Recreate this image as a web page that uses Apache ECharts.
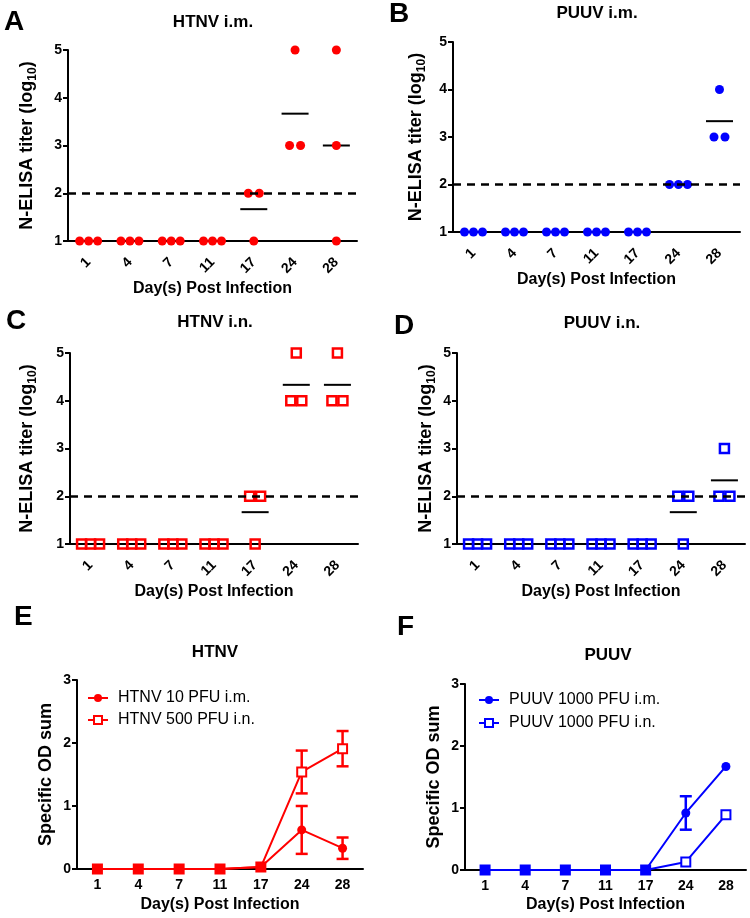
<!DOCTYPE html>
<html>
<head>
<meta charset="utf-8">
<script src="https://cdn.jsdelivr.net/npm/echarts@6/dist/echarts.min.js"></script>
<style>
  html, body { margin: 0; padding: 0; background: #fff; }
  #chart { width: 750px; height: 918px; }
</style>
</head>
<body>
<div id="chart"></div>
<script>
// days post infection (categories)
const days = ['1', '4', '7', '11', '17', '24', '28'];
const threshold = 2;

// N-ELISA titers (log10), three animals per day
const htnvImTiter = [[1, 1, 1], [1, 1, 1], [1, 1, 1], [1, 1, 1], [2, 2, 1], [5, 3, 3], [5, 3, 1]];
const puuvImTiter = [[1, 1, 1], [1, 1, 1], [1, 1, 1], [1, 1, 1], [1, 1, 1], [2, 2, 2], [4, 3, 3]];
const htnvInTiter = [[1, 1, 1], [1, 1, 1], [1, 1, 1], [1, 1, 1], [2, 2, 1], [5, 4, 4], [5, 4, 4]];
const puuvInTiter = [[1, 1, 1], [1, 1, 1], [1, 1, 1], [1, 1, 1], [1, 1, 1], [2, 2, 1], [3, 2, 2]];

// specific OD sum, mean and SEM
const htnvImOD = [0, 0, 0, 0, 0.03, 0.62, 0.33];
const htnvImSEM = [0, 0, 0, 0, 0, 0.38, 0.17];
const htnvInOD = [0, 0, 0, 0, 0.03, 1.54, 1.91];
const htnvInSEM = [0, 0, 0, 0, 0, 0.34, 0.28];
const puuvImOD = [0, 0, 0, 0, 0, 0.92, 1.67];
const puuvImSEM = [0, 0, 0, 0, 0, 0.27, 0];
const puuvInOD = [0, 0, 0, 0, 0, 0.13, 0.89];
const puuvInSEM = [0, 0, 0, 0, 0, 0, 0];

const RED = '#ff0000';
const BLUE = '#0000ff';
const FONT = 'Liberation Sans, Arial, sans-serif';

const chart = echarts.init(document.getElementById('chart'));

const grids = [
  { left: 68, top: 50, width: 289, height: 191 },
  { left: 453, top: 42, width: 287, height: 190 },
  { left: 70, top: 353, width: 288, height: 191 },
  { left: 457, top: 353, width: 288, height: 191 },
  { left: 77, top: 680, width: 286, height: 189 },
  { left: 465, top: 684, width: 281, height: 186 }
];

function xAxis(i, rotate, nameGap) {
  return {
    type: 'category', gridIndex: i, data: days, boundaryGap: true,
    name: 'Day(s) Post Infection', nameLocation: 'middle', nameGap: nameGap,
    nameTextStyle: { fontSize: 16, fontWeight: 'bold', color: '#000', fontFamily: FONT },
    axisLine: { lineStyle: { color: '#000', width: 2 } },
    axisTick: { alignWithLabel: true, length: 5, lineStyle: { color: '#000', width: 2 } },
    axisLabel: { rotate: rotate, fontSize: 14, fontWeight: 'bold', color: '#000', margin: rotate ? 19 : 9 },
    splitLine: { show: false }
  };
}

function yAxis(i, min, max, titer, nameGap) {
  return {
    type: 'value', gridIndex: i, min: min, max: max, interval: 1,
    name: titer ? '{m|N-ELISA titer (log}{s|10}{m|)}' : 'Specific OD sum',
    nameLocation: 'middle', nameGap: nameGap,
    nameTextStyle: {
      fontSize: 18, fontWeight: 'bold', color: '#000', fontFamily: FONT,
      rich: {
        m: { fontSize: 18, fontWeight: 'bold', color: '#000', fontFamily: FONT, lineHeight: 18, verticalAlign: 'top' },
        s: { fontSize: 12, fontWeight: 'bold', color: '#000', fontFamily: FONT, lineHeight: 30 }
      }
    },
    axisLine: { show: true, lineStyle: { color: '#000', width: 2 } },
    axisTick: { show: true, length: 5, lineStyle: { color: '#000', width: 2 } },
    axisLabel: { fontSize: 14, fontWeight: 'bold', color: '#000', margin: 6 },
    splitLine: { show: false }
  };
}

// spread identical replicate values sideways, like a dot plot
function dotPoints(groups) {
  const pts = [];
  groups.forEach((vals, i) => {
    const counts = {};
    vals.forEach(v => { counts[v] = (counts[v] || 0) + 1; });
    const seen = {};
    vals.forEach(v => {
      const n = counts[v];
      const k = seen[v] || 0;
      seen[v] = k + 1;
      const step = n >= 3 ? 9 : 11;
      pts.push({ value: [i, v], symbolOffset: [(k - (n - 1) / 2) * step, 0] });
    });
  });
  return pts;
}

function means(groups) {
  return groups.map((vals, i) => [i, vals.reduce((a, b) => a + b, 0) / vals.length]);
}

function titerSeries(i, groups, color, square) {
  return [
    {
      type: 'scatter', xAxisIndex: i, yAxisIndex: i, z: 2,
      symbol: 'rect', symbolSize: [27, 2], silent: true,
      itemStyle: { color: '#000', opacity: 1 },
      data: means(groups)
    },
    {
      type: 'scatter', xAxisIndex: i, yAxisIndex: i, z: 3,
      symbol: square ? 'rect' : 'circle', symbolSize: 9,
      itemStyle: square
        ? { color: 'transparent', borderColor: color, borderWidth: 2.5, opacity: 1 }
        : { color: color, opacity: 1 },
      data: dotPoints(groups),
      markLine: {
        silent: true, symbol: 'none', label: { show: false },
        lineStyle: { color: '#000', type: [8, 6], width: 2.5 },
        data: [{ yAxis: threshold }]
      }
    }
  ];
}

function errorBars(i, mean, sem, color) {
  return {
    type: 'custom', xAxisIndex: i, yAxisIndex: i, z: 1, silent: true,
    data: mean.map((m, k) => [k, m, sem[k]]),
    renderItem: function (params, api) {
      const e = api.value(2);
      if (!e) return null;
      const x = api.value(0), m = api.value(1);
      const top = api.coord([x, m + e]);
      const bot = api.coord([x, m - e]);
      const hw = 6;
      const style = { stroke: color, lineWidth: 2.5 };
      return {
        type: 'group',
        children: [
          { type: 'line', shape: { x1: top[0], y1: top[1], x2: bot[0], y2: bot[1] }, style: style },
          { type: 'line', shape: { x1: top[0] - hw, y1: top[1], x2: top[0] + hw, y2: top[1] }, style: style },
          { type: 'line', shape: { x1: bot[0] - hw, y1: bot[1], x2: bot[0] + hw, y2: bot[1] }, style: style }
        ]
      };
    }
  };
}

function odLines(i, names, im, imSem, inn, inSem, color) {
  // where the i.n. square sits on top of the i.m. circle it reads as a solid square
  const squares = inn.map((v, k) => ({
    value: v,
    itemStyle: { color: v === im[k] ? color : '#fff' }
  }));
  return [
    errorBars(i, im, imSem, color),
    errorBars(i, inn, inSem, color),
    {
      type: 'line', name: names[0], xAxisIndex: i, yAxisIndex: i, z: 3,
      data: im, symbol: 'circle', symbolSize: 9, showAllSymbol: true,
      lineStyle: { color: color, width: 2 },
      itemStyle: { color: color }
    },
    {
      type: 'line', name: names[1], xAxisIndex: i, yAxisIndex: i, z: 4,
      data: squares, symbol: 'rect', symbolSize: 9, showAllSymbol: true,
      lineStyle: { color: color, width: 2 },
      itemStyle: { color: '#fff', borderColor: color, borderWidth: 2 }
    }
  ];
}

const htnvNames = ['HTNV 10 PFU i.m.', 'HTNV 500 PFU i.n.'];
const puuvNames = ['PUUV 1000 PFU i.m.', 'PUUV 1000 PFU i.n.'];

const letterStyle = { fontSize: 28, fontWeight: 'bold', color: '#000' };
const headStyle = { fontSize: 17, fontWeight: 'bold', color: '#000' };

function title(text, left, top, style, align) {
  return { text: text, left: left, top: top, padding: 0, textAlign: align, textStyle: style };
}

const legendText = { fontSize: 16, color: '#000', padding: [0, 0, 0, 5] };

chart.setOption({
  animation: false,
  backgroundColor: '#fff',
  textStyle: { fontFamily: FONT },
  title: [
    title('A', 4, 8, letterStyle, 'left'),
    title('B', 389, 0, letterStyle, 'left'),
    title('C', 6, 307, letterStyle, 'left'),
    title('D', 394, 312, letterStyle, 'left'),
    title('E', 14, 603, letterStyle, 'left'),
    title('F', 397, 613, letterStyle, 'left'),
    title('HTNV i.m.', 213, 14, headStyle, 'center'),
    title('PUUV i.m.', 597, 5, headStyle, 'center'),
    title('HTNV i.n.', 215, 314, headStyle, 'center'),
    title('PUUV i.n.', 602, 315, headStyle, 'center'),
    title('HTNV', 215, 644, headStyle, 'center'),
    title('PUUV', 608, 647, headStyle, 'center')
  ],
  legend: [
    {
      data: htnvNames, orient: 'vertical', left: 87, top: 690, padding: 0,
      itemWidth: 20, itemHeight: 10, itemGap: 6, textStyle: legendText
    },
    {
      data: puuvNames, orient: 'vertical', left: 478, top: 692, padding: 0,
      itemWidth: 20, itemHeight: 10, itemGap: 7, textStyle: legendText
    }
  ],
  grid: grids,
  xAxis: [
    xAxis(0, 45, 40), xAxis(1, 45, 40), xAxis(2, 45, 40), xAxis(3, 45, 40),
    xAxis(4, 0, 28), xAxis(5, 0, 27)
  ],
  yAxis: [
    yAxis(0, 1, 5, true, 20), yAxis(1, 1, 5, true, 16),
    yAxis(2, 1, 5, true, 22), yAxis(3, 1, 5, true, 10),
    yAxis(4, 0, 3, false, 22), yAxis(5, 0, 3, false, 22)
  ],
  series: [].concat(
    titerSeries(0, htnvImTiter, RED, false),
    titerSeries(1, puuvImTiter, BLUE, false),
    titerSeries(2, htnvInTiter, RED, true),
    titerSeries(3, puuvInTiter, BLUE, true),
    odLines(4, htnvNames, htnvImOD, htnvImSEM, htnvInOD, htnvInSEM, RED),
    odLines(5, puuvNames, puuvImOD, puuvImSEM, puuvInOD, puuvInSEM, BLUE)
  )
});
</script>
</body>
</html>
